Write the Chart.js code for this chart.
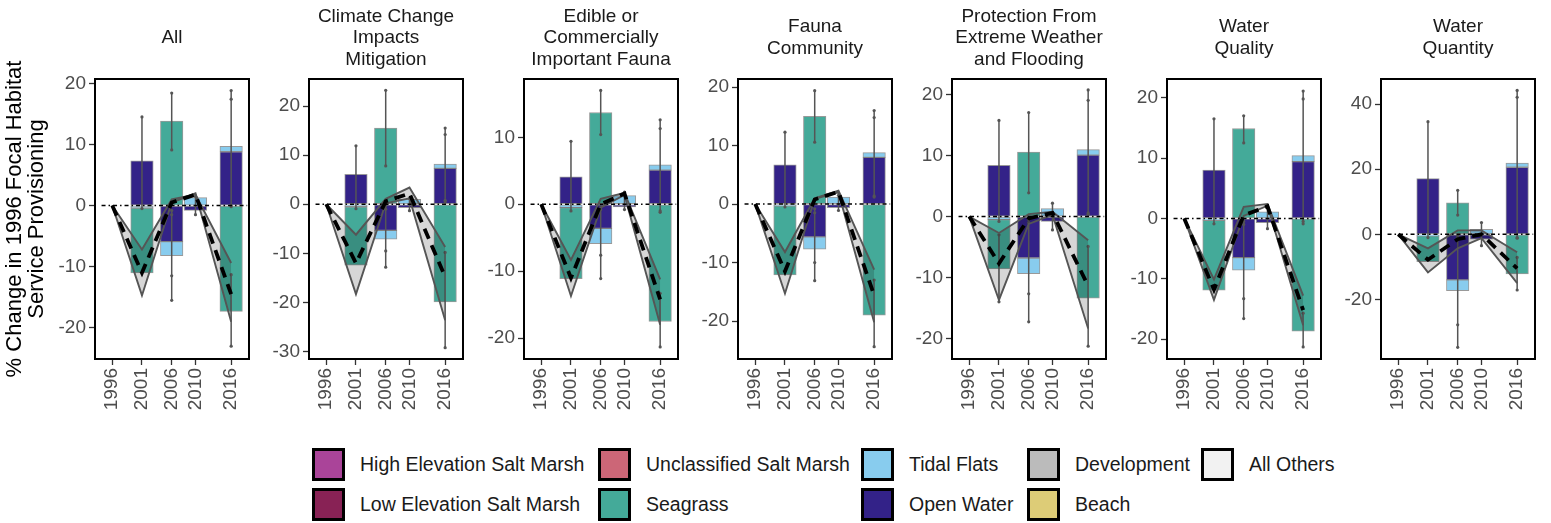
<!DOCTYPE html>
<html>
<head>
<meta charset="utf-8">
<script src="https://cdn.jsdelivr.net/npm/chart.js@4.4.1/dist/chart.umd.min.js"></script>
<style>
  body { margin: 0; background: #fff; width: 1551px; height: 523px; position: relative; overflow: hidden;
         font-family: "Liberation Sans", Arial, sans-serif; }
  canvas { position: absolute; top: 0; }
  #legend { position: absolute; left: 312px; top: 447px; display: grid; grid-auto-flow: column;
            grid-template-rows: 40px 40px; grid-template-columns: 286px 263px 166px 174px auto; }
  .item { display: flex; align-items: center; height: 34px; font-size: 19.5px; color: #1a1a1a; white-space: nowrap; }
  .key { width: 33px; height: 33px; box-sizing: border-box; border: 3px solid #000; margin-right: 15px; }
</style>
</head>
<body>
<div id="legend"></div>
<script>
const years = [1996, 2001, 2006, 2010, 2016];

const panelTitles = [
  ["All"],
  ["Climate Change", "Impacts", "Mitigation"],
  ["Edible or", "Commercially", "Important Fauna"],
  ["Fauna", "Community"],
  ["Protection From", "Extreme Weather", "and Flooding"],
  ["Water", "Quality"],
  ["Water", "Quantity"]
];

// stacked habitat contributions (% change), one row per panel, one value per year
const openWater = [
  [null, 7.3, -5.9, -0.8, 8.8],
  [null, 6.1, -5.3, -0.7, 7.3],
  [null, 4.1, -3.6, -0.4, 5.1],
  [null, 6.7, -5.6, -0.6, 8.0],
  [null, 8.4, -6.8, -0.8, 10.1],
  [null, 8.0, -6.5, -0.7, 9.4],
  [null, 17.1, -14.0, -1.5, 20.6]
];
const tidalFlats = [
  [null, -0.4, -2.3, 1.3, 0.9],
  [null, -0.5, -1.8, 1.0, 0.9],
  [null, -0.5, -2.3, 1.3, 0.8],
  [null, -0.3, -2.1, 1.2, 0.8],
  [null, -0.5, -2.6, 1.3, 0.9],
  [null, -0.3, -2.1, 1.1, 1.0],
  [null, -0.5, -3.3, 1.5, 1.3]
];
const seagrass = [
  [null, -10.6, 13.8, null, -17.3],
  [null, -11.9, 15.5, null, -19.9],
  [null, -10.6, 13.7, null, -17.5],
  [null, -11.8, 15.0, null, -19.0],
  [null, -8.1, 10.6, null, -13.4],
  [null, -11.6, 14.9, null, -18.7],
  [null, -7.9, 9.7, null, -12.2]
];

// total change: ribbon bounds and mean line
const upperBound = [
  [0, -7.2, 1.0, 1.8, -9.4],
  [0, -6.2, 1.1, 3.4, -8.7],
  [0, -8.3, 0.8, 1.7, -11.2],
  [0, -8.2, 1.0, 2.3, -11.2],
  [0, -2.7, 0.4, 0.8, -3.9],
  [0, -10.1, 1.9, 2.4, -12.8],
  [0, -4.3, 1.2, 1.2, -5.5]
];
const lowerBound = [
  [0, -14.7, 0.5, 2.0, -19.0],
  [0, -18.3, 0.2, 1.2, -23.6],
  [0, -13.7, -0.5, 1.4, -18.0],
  [0, -15.3, 0.9, 2.0, -20.2],
  [0, -13.7, -1.2, 0.3, -18.4],
  [0, -13.5, 0.4, 2.1, -17.7],
  [0, -11.7, -4.3, -1.2, -15.0]
];
const meanChange = [
  [0, -11.0, 0.5, 1.8, -14.5],
  [0, -12.0, 0.6, 2.2, -14.8],
  [0, -11.0, 0.0, 1.6, -14.2],
  [0, -11.5, 0.8, 2.1, -15.6],
  [0, -7.7, -0.3, 0.6, -11.4],
  [0, -11.8, 0.5, 2.0, -15.2],
  [0, -7.8, -1.5, 0.0, -10.5]
];

// error bars: [year, low, high]
const errorBars = [
  [[2001, -0.5, 14.5], [2006, 9.1, 18.4], [2006, -11.5, -0.8], [2006, -15.5, -1.5], [2010, -1.5, 1.5], [2016, 0, 17.4], [2016, -0.2, 18.8], [2016, -23, -11.3]],
  [[2001, -0.9, 11.9], [2006, 7.8, 23.2], [2006, -9.5, -1], [2006, -12.8, -0.3], [2010, -1.3, 1.2], [2016, 0.5, 15.5], [2016, 0.8, 14.2], [2016, -29.2, -9.8]],
  [[2001, -1, 9.4], [2006, 10.4, 17], [2006, -7.6, -0.4], [2006, -11.1, -0.8], [2010, -0.8, 1.8], [2016, -1.2, 12.6], [2016, -1, 11.3], [2016, -21.3, -13.3]],
  [[2001, -0.5, 12.3], [2006, 10.6, 19.4], [2006, -10, -1.5], [2006, -13.1, -0.8], [2010, -1.1, 1.5], [2016, 1.2, 16], [2016, 1.4, 14.8], [2016, -24.4, -13]],
  [[2001, -0.8, 15.8], [2001, -14, -3], [2006, 3.9, 17.1], [2006, -12.7, -0.5], [2006, -17.3, -1], [2010, -2.2, 2.2], [2016, 0.6, 20.8], [2016, 0.4, 19.1], [2016, -21.3, -4.9]],
  [[2001, -0.9, 16.5], [2006, 12.5, 17], [2006, -13.3, -0.5], [2006, -16.6, -1], [2010, -1.7, 2.2], [2016, -0.9, 21.1], [2016, -0.5, 19.8], [2016, -21.3, -15.7]],
  [[2001, -1, 34.6], [2006, 5.9, 13.5], [2006, -27.8, -1], [2006, -34.7, -0.5], [2010, -3.5, 3.6], [2016, -1.2, 44.2], [2016, -1, 42.1], [2016, -17.1, -7.1]]
];

const yLimits = [[-25.1, 20.7], [-31.5, 25.5], [-23.1, 18.7], [-26.5, 21.4], [-23.4, 22.6], [-23.3, 23.1], [-38.3, 47.7]];
const yTicks = [
  [-20, -10, 0, 10, 20],
  [-30, -20, -10, 0, 10, 20],
  [-20, -10, 0, 10],
  [-20, -10, 0, 10, 20],
  [-20, -10, 0, 10, 20],
  [-20, -10, 0, 10, 20],
  [-20, 0, 20, 40]
];
const xLimits = [1993.1, 2019];
const zeroLineX = [1994.2, 2018.7];

const legendNames = ["High Elevation Salt Marsh", "Low Elevation Salt Marsh", "Unclassified Salt Marsh", "Seagrass",
  "Tidal Flats", "Open Water", "Development", "Beach", "All Others"];
const legendColors = ["#AA4499", "#882255", "#CC6677", "#44AA99", "#88CCEE", "#332288", "#BBBBBB", "#DDCC77", "#F2F2F2"];
const colorOf = name => legendColors[legendNames.indexOf(name)];

const FONT = "'Liberation Sans', Arial, sans-serif";
const PLOT_W = 160, AXIS_W = 50, FIRST_AXIS_W = 95, PANEL_STEP = 214.3, CANVAS_H = 440;

// black frame round each panel
const panelBox = {
  id: "panelBox",
  afterDraw(chart) {
    const { ctx, chartArea: a } = chart;
    ctx.save();
    ctx.strokeStyle = "#000";
    ctx.lineWidth = 2;
    ctx.strokeRect(a.left, a.top, a.right - a.left, a.bottom - a.top);
    ctx.restore();
  }
};

function pts(vals) {
  return years.map((x, k) => ({ x: x, y: vals[k] }));
}

function bar(name, vals) {
  return {
    type: "bar", label: name, data: pts(vals), stack: "habitat", yAxisID: "y", order: 5,
    backgroundColor: colorOf(name), borderColor: "rgba(70,70,70,0.55)", borderWidth: 1,
    borderSkipped: false, barThickness: 22.5
  };
}

panelTitles.forEach((title, i) => {
  const axisW = i === 0 ? FIRST_AXIS_W : AXIS_W;
  const plotLeft = Math.round(FIRST_AXIS_W + PANEL_STEP * i);
  const canvas = document.createElement("canvas");
  canvas.width = axisW + PLOT_W + 3;
  canvas.height = CANVAS_H;
  canvas.style.left = (plotLeft - axisW) + "px";
  document.body.appendChild(canvas);

  const errPts = [];
  errorBars[i].forEach(([x, lo, hi]) => errPts.push({ x, y: lo }, { x, y: hi }, { x, y: null }));

  // vertically centre the strip title in a fixed 79px band
  const n = title.length, lh = 19 * 1.137;
  const padTop = 5.6 + (3 - n) * lh / 2;
  const padBottom = 79 - n * lh - padTop;

  new Chart(canvas, {
    type: "bar",
    data: {
      datasets: [
        bar("Open Water", openWater[i]),
        bar("Tidal Flats", tidalFlats[i]),
        bar("Seagrass", seagrass[i]),
        {
          type: "line", label: "error", data: errPts, yAxisID: "yl", order: 4, spanGaps: false,
          borderColor: "#555", borderWidth: 1.5, pointRadius: 1.6, pointBackgroundColor: "#555", pointBorderWidth: 0
        },
        {
          type: "line", label: "upper", data: pts(upperBound[i]), yAxisID: "yl", order: 3,
          borderColor: "#555", borderWidth: 1.9, pointRadius: 0, fill: false
        },
        {
          type: "line", label: "lower", data: pts(lowerBound[i]), yAxisID: "yl", order: 3,
          borderColor: "#555", borderWidth: 1.9, pointRadius: 0, fill: "-1",
          backgroundColor: "rgba(0,0,0,0.16)"
        },
        {
          type: "line", label: "mean", data: pts(meanChange[i]), yAxisID: "yl", order: 2,
          borderColor: "#000", borderWidth: 3.8, borderDash: [11, 7], pointRadius: 0, fill: false
        },
        {
          type: "line", label: "zero", data: zeroLineX.map(x => ({ x, y: 0 })), yAxisID: "yl", order: 1,
          borderColor: "#000", borderWidth: 1.5, borderDash: [4, 3, 1.5, 3], pointRadius: 0, fill: false
        }
      ]
    },
    options: {
      responsive: false,
      animation: false,
      layout: { padding: { left: 0, right: 3, top: 0, bottom: 0 } },
      plugins: {
        legend: { display: false },
        tooltip: { enabled: false },
        title: {
          display: true, fullSize: false, text: title, color: "#1a1a1a",
          font: { family: FONT, size: 19, weight: "normal", lineHeight: 1.137 },
          padding: { top: padTop, bottom: padBottom }
        }
      },
      scales: {
        x: {
          type: "linear", min: xLimits[0], max: xLimits[1], offset: false,
          afterBuildTicks: s => { s.ticks = years.map(v => ({ value: v })); },
          afterFit: s => { s.height = CANVAS_H - 359; },
          ticks: {
            autoSkip: false, minRotation: 90, maxRotation: 90, padding: 3, color: "#4d4d4d",
            font: { family: FONT, size: 19 }, callback: v => String(v)
          },
          grid: { drawOnChartArea: false, offset: false, tickLength: 6, tickColor: "#333", tickWidth: 1.3 },
          border: { display: false }
        },
        y: {
          type: "linear", stacked: true, min: yLimits[i][0], max: yLimits[i][1],
          afterBuildTicks: s => { s.ticks = yTicks[i].map(v => ({ value: v })); },
          afterFit: s => { s.width = axisW; },
          ticks: { padding: 3, color: "#4d4d4d", font: { family: FONT, size: 19 }, callback: v => String(v) },
          grid: { drawOnChartArea: false, tickLength: 6, tickColor: "#333", tickWidth: 1.3 },
          border: { display: false },
          title: {
            display: i === 0,
            text: ["% Change in 1996 Focal Habitat", "Service Provisioning"],
            color: "#000",
            font: { family: FONT, size: 22, lineHeight: 1.0 },
            padding: { top: 4, bottom: 0 }
          }
        },
        yl: { type: "linear", display: false, min: yLimits[i][0], max: yLimits[i][1] }
      }
    },
    plugins: [panelBox]
  });
});

// shared legend below the panels
const legend = document.getElementById("legend");
legendNames.forEach((name, k) => {
  const item = document.createElement("div");
  item.className = "item";
  const key = document.createElement("span");
  key.className = "key";
  key.style.background = legendColors[k];
  item.appendChild(key);
  item.appendChild(document.createTextNode(name));
  legend.appendChild(item);
});
</script>
</body>
</html>
